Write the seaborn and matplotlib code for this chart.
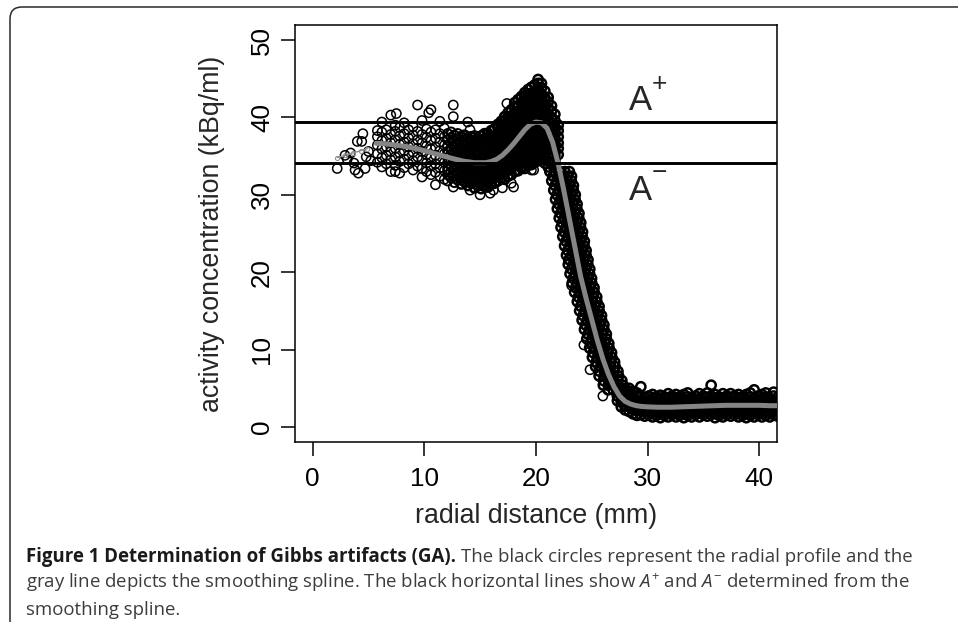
import matplotlib
matplotlib.use("Agg")
import matplotlib.pyplot as plt
from matplotlib.path import Path
from matplotlib.patches import PathPatch
import seaborn as sns
import pandas as pd

# ---------------- data ----------------
# sparse points at small radius
start_x = [2.2, 2.9, 3.1, 3.4, 3.7, 3.8, 4.0, 4.1, 4.4, 4.5, 4.7, 4.8, 5.0, 5.2]
start_y = [33.4, 35.1, 34.6, 35.4, 34.1, 33.2, 36.9, 32.8, 36.9, 37.9, 33.4, 34.9, 35.6, 34.4]

# plateau cloud (columns of points)
cloud_x = [5.8, 6.2, 6.6, 7.0, 7.4, 7.8, 8.2, 8.6, 9.0, 9.4, 9.8, 10.2, 10.6, 11.0, 11.4, 11.8]
cloud_y = [
    [34.2, 35.3, 36.4, 37.5, 38.3],
    [33.6, 34.8, 35.9, 37.0, 38.1, 39.4],
    [34.0, 35.1, 36.2, 37.3, 38.4],
    [33.0, 34.5, 35.6, 36.7, 37.8, 40.3],
    [33.8, 34.9, 36.0, 37.1, 38.2, 39.0],
    [32.8, 34.3, 35.4, 36.5, 37.6, 38.7],
    [33.5, 34.6, 35.7, 36.8, 37.9, 39.3],
    [34.0, 35.1, 36.2, 37.3, 38.4],
    [33.2, 34.4, 35.5, 36.6, 37.7, 38.8],
    [33.7, 34.9, 36.0, 37.1, 38.2, 41.6],
    [32.3, 33.4, 34.5, 35.6, 36.7, 37.8, 39.6],
    [33.0, 34.1, 35.2, 36.3, 37.4, 38.5],
    [32.6, 33.7, 34.8, 35.9, 37.0, 38.1, 41.0],
    [31.3, 32.9, 34.0, 35.1, 36.2, 37.3, 38.4],
    [32.4, 33.5, 34.6, 35.7, 36.8, 37.9, 39.5],
    [32.0, 33.1, 34.2, 35.3, 36.4, 37.5, 38.6],
]

# dense dip + Gibbs peak (columns of points)
peak_x = [12.1, 12.4, 12.7, 13.0, 13.3, 13.6, 13.9, 14.2, 14.5, 14.8, 15.1, 15.4, 15.7,
          16.0, 16.3, 16.6, 16.9, 17.2, 17.5, 17.8, 18.1, 18.4, 18.7, 19.0, 19.3, 19.6,
          19.9, 20.2, 20.5, 20.8, 21.1, 21.4, 21.7, 22.0]
peak_y = [
    [31.8, 32.6, 33.3, 34.1, 34.8, 35.6, 36.3, 37.1, 37.9],
    [32.2, 32.9, 33.7, 34.4, 35.2, 35.9, 36.7, 37.4, 38.1],
    [31.6, 32.4, 33.1, 33.9, 34.6, 35.4, 36.1, 36.9, 37.7],
    [31.9, 32.7, 33.4, 34.2, 34.9, 35.7, 36.4, 37.2, 37.9],
    [31.4, 32.2, 32.9, 33.7, 34.4, 35.2, 35.9, 36.7, 37.5],
    [31.7, 32.5, 33.2, 34.0, 34.7, 35.5, 36.2, 37.0, 37.7],
    [31.2, 32.0, 32.7, 33.5, 34.2, 35.0, 35.7, 36.5, 37.3],
    [31.5, 32.3, 33.0, 33.8, 34.5, 35.3, 36.0, 36.8, 37.5],
    [30.9, 31.7, 32.4, 33.2, 33.9, 34.7, 35.4, 36.2, 37.0, 37.6],
    [31.2, 32.0, 32.7, 33.5, 34.2, 35.0, 35.7, 36.5, 37.3],
    [30.8, 31.6, 32.3, 33.1, 33.8, 34.6, 35.3, 36.1, 36.9, 37.6],
    [31.1, 31.9, 32.6, 33.4, 34.1, 34.9, 35.6, 36.4, 37.2, 37.9],
    [31.0, 31.8, 32.5, 33.3, 34.0, 34.8, 35.5, 36.3, 37.1, 37.9],
    [31.4, 32.2, 32.9, 33.7, 34.4, 35.2, 35.9, 36.7, 37.5, 38.3],
    [31.5, 32.3, 33.0, 33.8, 34.5, 35.3, 36.0, 36.8, 37.6, 38.5],
    [31.8, 32.6, 33.3, 34.1, 34.8, 35.6, 36.3, 37.1, 37.9, 38.7, 39.1],
    [32.1, 32.9, 33.6, 34.4, 35.1, 35.9, 36.6, 37.4, 38.2, 39.0, 39.5],
    [32.0, 32.8, 33.5, 34.3, 35.0, 35.8, 36.5, 37.3, 38.1, 38.9, 39.6, 40.1],
    [32.4, 33.2, 33.9, 34.7, 35.4, 36.2, 36.9, 37.7, 38.5, 39.3, 40.0, 40.6],
    [32.6, 33.4, 34.1, 34.9, 35.6, 36.4, 37.1, 37.9, 38.7, 39.5, 40.2, 41.0],
    [33.0, 33.8, 34.5, 35.3, 36.0, 36.8, 37.5, 38.3, 39.1, 39.9, 40.6, 41.4, 41.9],
    [33.1, 33.9, 34.6, 35.4, 36.1, 36.9, 37.6, 38.4, 39.2, 40.0, 40.7, 41.5, 42.3],
    [33.5, 34.3, 35.0, 35.8, 36.5, 37.3, 38.0, 38.8, 39.6, 40.4, 41.1, 41.9, 42.7],
    [33.4, 34.2, 34.9, 35.7, 36.4, 37.2, 37.9, 38.7, 39.5, 40.3, 41.0, 41.8, 42.6, 43.2],
    [33.8, 34.6, 35.3, 36.1, 36.8, 37.6, 38.3, 39.1, 39.9, 40.7, 41.4, 42.2, 43.0, 43.6],
    [33.9, 34.7, 35.4, 36.2, 36.9, 37.7, 38.4, 39.2, 40.0, 40.8, 41.5, 42.3, 43.1, 43.9],
    [34.2, 35.0, 35.7, 36.5, 37.2, 38.0, 38.7, 39.5, 40.3, 41.1, 41.8, 42.6, 43.4, 44.2],
    [34.4, 35.2, 35.9, 36.7, 37.4, 38.2, 38.9, 39.7, 40.5, 41.3, 42.0, 42.8, 43.6, 44.4, 44.9],
    [34.6, 35.4, 36.1, 36.9, 37.6, 38.4, 39.1, 39.9, 40.7, 41.5, 42.2, 43.0, 43.8, 44.4],
    [34.1, 34.9, 35.6, 36.4, 37.1, 37.9, 38.6, 39.4, 40.2, 41.0, 41.7, 42.5, 43.4],
    [33.6, 34.4, 35.1, 35.9, 36.6, 37.4, 38.1, 38.9, 39.7, 40.5, 41.2, 42.0, 42.6],
    [33.9, 34.7, 35.4, 36.2, 36.9, 37.7, 38.4, 39.2, 40.0, 40.8, 41.5],
    [34.3, 35.1, 35.8, 36.6, 37.3, 38.1, 38.8, 39.6, 40.4],
    [35.2, 36.0, 36.7, 37.5, 38.3, 39.0],
]

# steep fall-off (rows of points)
drop_y = [33.0, 32.4, 31.8, 31.2, 30.6, 30.0, 29.4, 28.8, 28.2, 27.6, 27.0, 26.4, 25.8,
          25.2, 24.6, 24.0, 23.4, 22.8, 22.2, 21.6, 21.0, 20.4, 19.8, 19.2, 18.6, 18.0,
          17.4, 16.8, 16.2, 15.6, 15.0, 14.4, 13.8, 13.2, 12.6, 12.0, 11.4, 10.8, 10.2,
          9.6, 9.0, 8.4, 7.8, 7.2, 6.6, 6.0, 5.4, 4.8]
drop_x = [
    [21.25, 21.7, 22.15, 22.6, 23.0],
    [21.54, 21.99, 22.44, 22.84, 23.19],
    [21.42, 21.87, 22.32, 22.77, 23.17],
    [21.71, 22.16, 22.61, 23.01, 23.36],
    [21.6, 22.05, 22.5, 22.95, 23.35],
    [21.88, 22.33, 22.78, 23.18, 23.53],
    [21.76, 22.21, 22.66, 23.11, 23.51],
    [22.04, 22.49, 22.94, 23.34, 23.69],
    [21.92, 22.37, 22.82, 23.27, 23.67],
    [22.21, 22.66, 23.11, 23.51, 23.86],
    [22.09, 22.54, 22.99, 23.44, 23.84],
    [22.37, 22.82, 23.27, 23.67, 24.02],
    [22.25, 22.7, 23.15, 23.6, 24.0],
    [22.53, 22.98, 23.43, 23.83, 24.18],
    [22.41, 22.86, 23.31, 23.76, 24.16],
    [22.69, 23.14, 23.59, 23.99, 24.34],
    [22.57, 23.02, 23.47, 23.92, 24.32],
    [22.85, 23.3, 23.75, 24.15, 24.5],
    [22.74, 23.19, 23.64, 24.09, 24.49],
    [23.02, 23.47, 23.92, 24.32, 24.67],
    [22.9, 23.35, 23.8, 24.25, 24.65],
    [23.18, 23.63, 24.08, 24.48, 24.83],
    [23.06, 23.51, 23.96, 24.41, 24.81],
    [23.34, 23.79, 24.24, 24.64, 24.99],
    [23.25, 23.7, 24.15, 24.6, 25.0],
    [23.56, 24.01, 24.46, 24.86, 25.21],
    [23.47, 23.92, 24.37, 24.82, 25.22],
    [23.8, 24.25, 24.7, 25.1, 25.45],
    [23.71, 24.16, 24.61, 25.06, 25.46],
    [24.01, 24.46, 24.91, 25.31, 25.66],
    [23.92, 24.37, 24.82, 25.27, 25.67],
    [24.23, 24.68, 25.13, 25.53, 25.88],
    [24.14, 24.59, 25.04, 25.49, 25.89],
    [24.44, 24.89, 25.34, 25.74, 26.09],
    [24.35, 24.8, 25.25, 25.7, 26.1],
    [24.66, 25.11, 25.56, 25.96, 26.31],
    [24.56, 25.01, 25.46, 25.91, 26.31],
    [24.88, 25.33, 25.78, 26.18, 26.53],
    [24.81, 25.26, 25.71, 26.16, 26.56],
    [25.13, 25.58, 26.03, 26.43, 26.78],
    [25.06, 25.51, 25.96, 26.41, 26.81],
    [25.4, 25.85, 26.3, 26.7, 27.05],
    [25.35, 25.8, 26.25, 26.7, 27.1],
    [25.7, 26.15, 26.6, 27.0, 27.35],
    [25.66, 26.11, 26.56, 27.01, 27.41],
    [26.05, 26.5, 26.95, 27.35, 27.7],
    [26.04, 26.49, 26.94, 27.39, 27.79],
    [26.47, 26.92, 27.37, 27.77, 28.12],
]

# background tail (columns of points)
tail_x = [27.3, 27.65, 28.0, 28.35, 28.7, 29.05, 29.4, 29.75, 30.1, 30.45, 30.8, 31.15,
          31.5, 31.85, 32.2, 32.55, 32.9, 33.25, 33.6, 33.95, 34.3, 34.65, 35.0, 35.35,
          35.7, 36.05, 36.4, 36.75, 37.1, 37.45, 37.8, 38.15, 38.5, 38.85, 39.2, 39.55,
          39.9, 40.25, 40.6, 40.95, 41.3, 41.65]
tail_y = [
    [3.4, 4.0, 4.6],
    [2.6, 3.2, 3.8, 4.4],
    [2.2, 2.8, 3.4, 4.0, 4.6],
    [2.0, 2.6, 3.2, 3.8, 4.4, 5.0],
    [1.7, 2.3, 2.9, 3.5, 4.1, 4.6],
    [1.5, 2.1, 2.7, 3.3, 3.9, 4.4],
    [1.6, 2.2, 2.8, 3.4, 4.0, 5.2],
    [1.4, 2.0, 2.6, 3.2, 3.8],
    [1.6, 2.2, 2.8, 3.4, 4.0],
    [1.3, 1.9, 2.5, 3.1, 3.7, 4.2],
    [1.5, 2.1, 2.7, 3.3, 3.9],
    [1.2, 1.8, 2.4, 3.0, 3.6, 4.1],
    [1.5, 2.1, 2.7, 3.3, 3.9],
    [1.3, 1.9, 2.5, 3.1, 3.7, 4.3],
    [1.6, 2.2, 2.8, 3.4, 4.0],
    [1.3, 1.9, 2.5, 3.1, 3.7, 4.2],
    [1.5, 2.1, 2.7, 3.3, 3.9],
    [1.2, 1.8, 2.4, 3.0, 3.6, 4.2],
    [1.5, 2.1, 2.7, 3.3, 3.9, 4.4],
    [1.3, 1.9, 2.5, 3.1, 3.7],
    [1.6, 2.2, 2.8, 3.4, 4.0],
    [1.3, 1.9, 2.5, 3.1, 3.7, 4.3],
    [1.6, 2.2, 2.8, 3.4, 4.0],
    [1.4, 2.0, 2.6, 3.2, 3.8, 4.4],
    [1.6, 2.2, 2.8, 3.4, 4.0, 5.4],
    [1.2, 1.8, 2.4, 3.0, 3.6, 4.2],
    [1.5, 2.1, 2.7, 3.3, 3.9],
    [1.3, 1.9, 2.5, 3.1, 3.7, 4.3],
    [1.6, 2.2, 2.8, 3.4, 4.0],
    [1.4, 2.0, 2.6, 3.2, 3.8, 4.3],
    [1.6, 2.2, 2.8, 3.4, 4.0],
    [1.3, 1.9, 2.5, 3.1, 3.7, 4.2],
    [1.5, 2.1, 2.7, 3.3, 3.9],
    [1.2, 1.8, 2.4, 3.0, 3.6, 4.2],
    [1.5, 2.1, 2.7, 3.3, 3.9, 4.4],
    [1.3, 1.9, 2.5, 3.1, 3.7, 4.8],
    [1.6, 2.2, 2.8, 3.4, 4.0],
    [1.3, 1.9, 2.5, 3.1, 3.7, 4.2],
    [1.5, 2.1, 2.7, 3.3, 3.9, 4.4],
    [1.3, 1.9, 2.5, 3.1, 3.7],
    [1.6, 2.2, 2.8, 3.4, 4.0, 4.5],
    [1.4, 2.0, 2.6, 3.2, 3.8],
]

# isolated outliers
extra_x = [7.5, 10.4, 12.6, 12.6, 12.6, 13.9, 14.1, 15.0, 17.4, 18.0, 7.4, 19.8, 16.2,
           17.0, 17.8, 14.1, 15.9, 19.6, 23.2, 22.9, 24.3, 24.85, 26.0]
extra_y = [40.5, 40.6, 41.6, 40.1, 31.0, 39.4, 38.4, 30.0, 41.8, 31.0, 33.0, 33.2, 30.6,
           30.9, 31.5, 30.6, 30.2, 33.2, 18.3, 21.6, 10.6, 7.4, 4.0]

# smoothing spline
spline_x = [5.7, 6.5, 7.5, 8.5, 9.5, 10.5, 11.5, 12.5, 13.5, 14.5, 15.5, 16.0, 16.5, 17.0,
            17.5, 18.0, 18.5, 19.0, 19.5, 20.0, 20.5, 21.0, 21.5, 22.0, 22.5, 23.0, 23.5,
            24.0, 24.5, 25.0, 25.5, 26.0, 26.5, 27.0, 27.5, 28.0, 28.5, 29.0, 29.5, 30.0,
            31.0, 32.0, 33.0, 34.0, 35.0, 36.0, 37.0, 38.0, 39.0, 40.0, 41.0, 41.6]
spline_y = [36.65, 36.6, 36.4, 36.2, 35.9, 35.5, 35.1, 34.7, 34.35, 34.15, 34.15, 34.3,
            34.6, 35.1, 35.8, 36.6, 37.5, 38.4, 39.1, 39.4, 39.3, 38.6, 36.8, 34.0, 30.6,
            26.9, 23.2, 19.5, 16.6, 13.9, 11.2, 8.8, 6.8, 5.2, 4.0, 3.3, 2.95, 2.75, 2.65,
            2.6, 2.55, 2.55, 2.6, 2.65, 2.7, 2.75, 2.8, 2.8, 2.8, 2.8, 2.75, 2.75]
lead_x = [2.2, 2.9, 3.6, 4.3, 4.9]
lead_y = [34.8, 35.1, 35.4, 35.7, 35.95]

a_plus = 39.4
a_minus = 34.1

x_ticks = [0, 10, 20, 30, 40]
y_ticks = [0, 10, 20, 30, 40, 50]

# ---------------- assemble ----------------
sx, sy = list(start_x) + list(extra_x), list(start_y) + list(extra_y)
for x, ys in zip(cloud_x, cloud_y):
    sx += [x] * len(ys)
    sy += ys
sparse = pd.DataFrame({"r": sx, "a": sy})

mx, my, dx, dy = [], [], [], []
for x, ys in zip(peak_x, peak_y):
    if x < 13.2:
        mx += [x] * len(ys)
        my += ys
    else:
        dx += [x] * len(ys)
        dy += ys
for x, ys in zip(tail_x, tail_y):
    dx += [x] * len(ys)
    dy += ys
for y, xs in zip(drop_y, drop_x):
    dx += xs
    dy += [y] * len(xs)
medium = pd.DataFrame({"r": mx, "a": my})
dense = pd.DataFrame({"r": dx, "a": dy})

# ---------------- style ----------------
sns.set_style("white")
plt.rcParams["font.family"] = ["Liberation Sans", "DejaVu Sans"]
plt.rcParams["mathtext.fontset"] = "custom"
plt.rcParams["mathtext.rm"] = "Open Sans"
plt.rcParams["mathtext.it"] = "Open Sans:italic"

W, H = 958, 622
fig = plt.figure(figsize=(W / 100, H / 100), dpi=100)
fig.patch.set_facecolor("white")
ax = fig.add_axes([295 / W, 1 - 442 / H, (777 - 295) / W, (442 - 25) / H])
ax.set_facecolor("white")

sns.scatterplot(data=dense, x="r", y="a", ax=ax, marker="o", s=44,
                facecolor="none", edgecolor="black", linewidth=1.8,
                legend=False, zorder=2)
sns.scatterplot(data=medium, x="r", y="a", ax=ax, marker="o", s=44,
                facecolor="none", edgecolor="black", linewidth=1.4,
                legend=False, zorder=2)
sns.scatterplot(data=sparse, x="r", y="a", ax=ax, marker="o", s=44,
                facecolor="none", edgecolor="black", linewidth=1.1,
                legend=False, zorder=2)
sns.lineplot(x=lead_x, y=lead_y, ax=ax, color="#909090", linewidth=1.0,
             marker="o", markersize=3, markerfacecolor="none",
             markeredgecolor="#909090", sort=False, estimator=None, zorder=3)
sns.lineplot(x=spline_x, y=spline_y, ax=ax, color="#858585", linewidth=3.6,
             sort=False, estimator=None, zorder=3)
ax.axhline(a_plus, color="black", linewidth=2.1, zorder=4)
ax.axhline(a_minus, color="black", linewidth=2.1, zorder=4)

ax.set_xlim(-1.58, 41.6)
ax.set_ylim(-1.94, 51.94)
ax.set_xticks(x_ticks)
ax.set_yticks(y_ticks)
for sp in ax.spines.values():
    sp.set_visible(True)
    sp.set_color("black")
    sp.set_linewidth(1.1)
ax.tick_params(axis="both", which="major", direction="out", length=10, width=1.1,
               colors="black", labelsize=18.7, bottom=True, left=True,
               top=False, right=False)
ax.tick_params(axis="x", pad=8.3)
ax.tick_params(axis="y", pad=5.2, labelrotation=90)
for lab in ax.get_yticklabels():
    lab.set_va("center")

ax.set_xlabel("radial distance (mm)", fontsize=19.3, va="baseline")
ax.set_ylabel("activity concentration (kBq/ml)", fontsize=19.3, va="baseline")
ax.xaxis.set_label_coords(0.5, -0.1935)
ax.yaxis.set_label_coords(-0.1587, 0.499)

# A+ / A- annotations
ax.text(29.33, 40.96, "A", fontsize=25, ha="center", va="baseline", zorder=5)
ax.text(31.03, 44.3, "+", fontsize=19, ha="center", va="center", zorder=5)
ax.text(29.33, 29.33, "A", fontsize=25, ha="center", va="baseline", zorder=5)
ax.text(31.03, 32.86, "\u2212", fontsize=19, ha="center", va="center", zorder=5)

# ---------------- frame around figure ----------------
def fx(p):
    return p / W

def fy(p):
    return 1 - p / H

verts = [(fx(10), fy(640)), (fx(10), fy(19)), (fx(10), fy(7)), (fx(22), fy(7)), (fx(970), fy(7))]
codes = [Path.MOVETO, Path.LINETO, Path.CURVE3, Path.CURVE3, Path.LINETO]
fig.add_artist(PathPatch(Path(verts, codes), transform=fig.transFigure,
                         facecolor="none", edgecolor="#2a2a2a", linewidth=1.1))

# ---------------- caption ----------------
cap_family = ["Open Sans", "DejaVu Sans"]
bold_str = "Figure 1 Determination of Gibbs artifacts (GA)."
rest_str = "The black circles represent the radial profile and the"
line2 = ("gray line depicts the smoothing spline. The black horizontal lines show "
         "$A^{+}$ and $A^{-}$ determined from the")
line3 = "smoothing spline."
x0 = 26
fs = 12.3
t_bold = fig.text(fx(x0), fy(561.7), bold_str, fontsize=fs, fontweight="bold",
                  family=cap_family, color="#1a1a1a", va="baseline")
t_rest = fig.text(fx(x0), fy(561.7), rest_str, fontsize=fs, family=cap_family,
                  color="#3c3c3c", va="baseline")
t2 = fig.text(fx(x0), fy(588.5), line2, fontsize=fs, family=cap_family,
              color="#3c3c3c", va="baseline")
t3 = fig.text(fx(x0), fy(615.3), line3, fontsize=fs, family=cap_family,
              color="#3c3c3c", va="baseline")

renderer = fig.canvas.get_renderer()
for _ in range(3):
    for t in (t_bold, t_rest, t2, t3):
        t.set_fontsize(fs)
    bb = t_bold.get_window_extent(renderer)
    space = 0.26 * fs * 100 / 72
    t_rest.set_x(fx(bb.x1 + space))
    end = t_rest.get_window_extent(renderer).x1
    fs = fs * (911 - x0) / (end - x0)

fig.savefig("out.png", dpi=100, facecolor="white")
